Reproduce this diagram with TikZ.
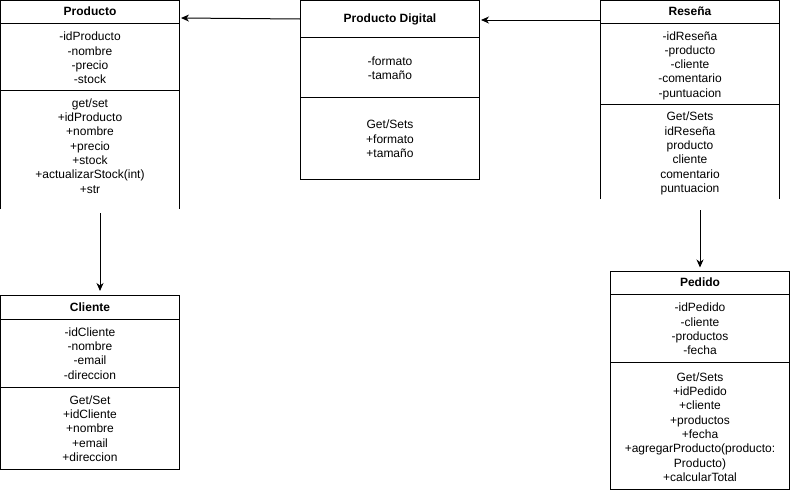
\documentclass[tikz,border=0pt]{standalone}
\usepackage{fontspec}
\setmainfont{Liberation Sans}
\usetikzlibrary{arrows.meta}
\tikzset{
  classtitle/.style={draw, line width=1pt, minimum width=179pt, inner sep=0pt, font=\bfseries\fontsize{12}{14}\selectfont},
  members/.style={inner sep=0pt, align=center, font=\fontsize{12}{14.3}\selectfont},
  assoc/.style={line width=1pt, -{Stealth[length=8pt,width=7pt,inset=2.5pt]}},
}
\begin{document}
\begin{tikzpicture}[x=1pt,y=-1pt]
\useasboundingbox (0,0) rectangle (790,490);
% Producto
\node[classtitle, minimum height=23pt] (productoTitle) at (90,11.5) {\raisebox{-1pt}{Producto}};
\draw[line width=1pt] (0.5,209) -- (0.5,23) -- (179.5,23) -- (179.5,209);
\draw[line width=1pt] (0.5,90) -- (179.5,90);
\node[members] (productoAttr) at (90,58) {-idProducto\\-nombre\\-precio\\-stock};
\node[members] (productoOps) at (90,146) {get/set\\+idProducto\\+nombre\\+precio\\+stock\\+actualizarStock(int)\\+str};
% Producto Digital
\node[classtitle, minimum height=37pt] (digitalTitle) at (390,19) {\raisebox{-1pt}{Producto Digital}};
\draw[line width=1pt] (300.5,37.5) rectangle (479.5,179.5);
\draw[line width=1pt] (300.5,97.5) -- (479.5,97.5);
\node[members] (digitalAttr) at (390,68.5) {-formato\\-tamaño};
\node[members] (digitalOps) at (390,139) {Get/Sets\\+formato\\+tamaño};
% Reseña
\node[classtitle, minimum height=23pt] (resenaTitle) at (690,11.5) {\raisebox{-1pt}{Reseña}};
\draw[line width=1pt] (600.5,199) -- (600.5,23) -- (779.5,23) -- (779.5,199);
\draw[line width=1pt] (600.5,104) -- (779.5,104);
\node[members] (resenaAttr) at (690,65.5) {-idReseña\\-producto\\-cliente\\-comentario\\-puntuacion};
\node[members] (resenaOps) at (690,153.5) {Get/Sets\\idReseña\\producto\\cliente\\comentario\\puntuacion};
% Cliente
\node[classtitle, minimum height=24pt] (clienteTitle) at (90,307.5) {\raisebox{-1pt}{Cliente}};
\draw[line width=1pt] (0.5,319.5) rectangle (179.5,469.5);
\draw[line width=1pt] (0.5,387.5) -- (179.5,387.5);
\node[members] (clienteAttr) at (90,353.5) {-idCliente\\-nombre\\-email\\-direccion};
\node[members] (clienteOps) at (90,428.5) {Get/Set\\+idCliente\\+nombre\\+email\\+direccion};
% Pedido
\node[classtitle, minimum height=23pt] (pedidoTitle) at (700,282.5) {\raisebox{-1pt}{Pedido}};
\draw[line width=1pt] (610.5,294) rectangle (789.5,489.5);
\draw[line width=1pt] (610.5,362) -- (789.5,362);
\node[members] (pedidoAttr) at (700,329) {-idPedido\\-cliente\\-productos\\-fecha};
\node[members] (pedidoOps) at (700,427) {Get/Sets\\+idPedido\\+cliente\\+productos\\+fecha\\+agregarProducto(producto:\\Producto)\\+calcularTotal};
% connectors
\coordinate (productoIn) at (181,18);
\coordinate (digitalIn) at (481,20);
\coordinate (resenaOut) at (600,20);
\coordinate (productoOut) at (100,213);
\coordinate (resenaDown) at (700,210);
\draw[assoc] (digitalTitle.west) -- (productoIn);
\draw[assoc] (resenaOut) -- (digitalIn);
\draw[assoc, shorten >=4pt] (productoOut) -- (productoOut |- clienteTitle.north);
\draw[assoc, shorten >=3pt] (resenaDown) -- (resenaDown |- pedidoTitle.north);
\end{tikzpicture}
\end{document}
